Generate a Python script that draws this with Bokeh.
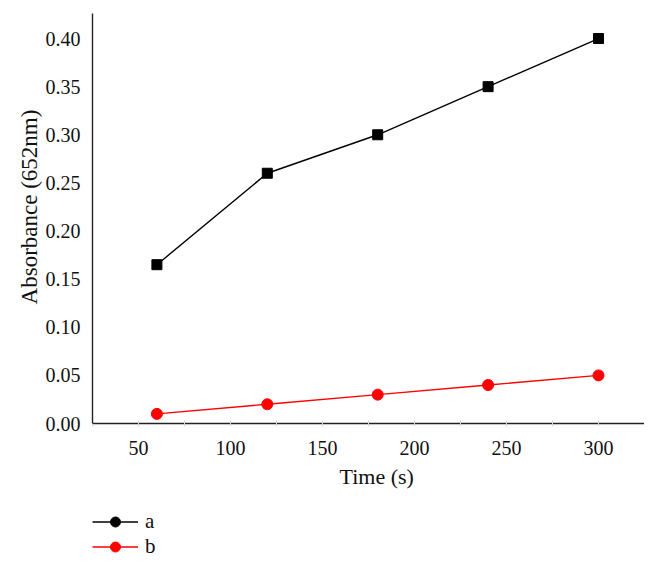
from bokeh.plotting import figure
from bokeh.layouts import column
from bokeh.models import Range1d, Legend, LegendItem, FixedTicker, ColumnDataSource
from bokeh.embed import file_html
from bokeh.resources import INLINE

time_s = [60, 120, 180, 240, 300]
series_a = [0.165, 0.26, 0.30, 0.35, 0.40]
series_b = [0.01, 0.02, 0.03, 0.04, 0.05]
x_ticks = [50, 100, 150, 200, 250, 300]
x_minor_ticks = [25, 75, 125, 175, 225, 275, 325]
y_ticks = [0.0, 0.05, 0.10, 0.15, 0.20, 0.25, 0.30, 0.35, 0.40]
y_tick_labels = {0.0: "0.00", 0.05: "0.05", 0.10: "0.10", 0.15: "0.15", 0.20: "0.20",
                 0.25: "0.25", 0.30: "0.30", 0.35: "0.35", 0.40: "0.40"}
legend_labels = ["a", "b"]
x_title = "Time (s)"
y_title = "Absorbance (652nm)"

FONT = "Liberation Serif"
BLACK = "#000000"
RED = "#ff0000"
NBSP = "\u00a0"

p = figure(width=644, height=500, output_backend="svg", toolbar_location=None,
           x_range=Range1d(25, 325), y_range=Range1d(0, 0.426),
           min_border_left=92, min_border_right=0, min_border_top=13, min_border_bottom=77)
p.outline_line_color = None
p.xgrid.visible = False
p.ygrid.visible = False

src_a = ColumnDataSource(dict(x=time_s, y=series_a))
src_b = ColumnDataSource(dict(x=time_s, y=series_b))

p.line("x", "y", source=src_a, line_color=BLACK, line_width=1.4)
p.scatter("x", "y", source=src_a, marker="square", size=10, fill_color=BLACK, line_color=BLACK)
p.line("x", "y", source=src_b, line_color=RED, line_width=1.4)
p.scatter("x", "y", source=src_b, marker="circle", size=11, fill_color=RED, line_color=RED)

# axes
p.xaxis.ticker = FixedTicker(ticks=x_ticks, minor_ticks=x_minor_ticks)
p.yaxis.ticker = FixedTicker(ticks=y_ticks)
p.yaxis.major_label_overrides = y_tick_labels
for ax in (p.xaxis, p.yaxis):
    ax.axis_line_color = "#222222"
    ax.axis_line_width = 1.4
    ax.major_label_text_font = FONT
    ax.major_label_text_font_size = "20px"
    ax.major_label_text_color = "#111111"
    ax.axis_label_text_font = FONT
    ax.axis_label_text_font_style = "normal"
    ax.axis_label_text_color = "#111111"

p.xaxis.axis_label_text_font_size = "22px"
p.yaxis.axis_label_text_font_size = "23px"

p.yaxis.major_tick_line_color = None
p.yaxis.minor_tick_line_color = None
p.yaxis.major_label_standoff = 6
# leading no-break spaces nudge the title off-centre as in the reference
p.yaxis.axis_label = NBSP * 4 + y_title
p.yaxis.axis_label_standoff = 1

p.xaxis.major_tick_line_color = "#d8d8d8"
p.xaxis.minor_tick_line_color = "#d8d8d8"
p.xaxis.major_tick_in = 3
p.xaxis.major_tick_out = 3
p.xaxis.minor_tick_in = 3
p.xaxis.minor_tick_out = 3
p.xaxis.major_label_standoff = 14
p.xaxis.axis_label = NBSP * 3 + x_title
p.xaxis.axis_label_standoff = 6

# legend panel below the chart
q = figure(width=644, height=59, output_backend="svg", toolbar_location=None,
           x_range=Range1d(0, 1), y_range=Range1d(0, 1),
           min_border_left=92, min_border_right=0, min_border_top=0, min_border_bottom=0,
           x_axis_location=None, y_axis_location=None)
q.outline_line_color = None
q.xgrid.visible = False
q.ygrid.visible = False
leg_a = ColumnDataSource(dict(x=time_s[:1], y=series_a[:1]))
leg_b = ColumnDataSource(dict(x=time_s[:1], y=series_b[:1]))
la = q.line("x", "y", source=leg_a, line_color=BLACK, line_width=1.4, visible=False)
ga = q.scatter("x", "y", source=leg_a, marker="circle", size=13, fill_color=BLACK, line_color=BLACK, visible=False)
lb = q.line("x", "y", source=leg_b, line_color=RED, line_width=1.4, visible=False)
gb = q.scatter("x", "y", source=leg_b, marker="circle", size=11, fill_color=RED, line_color=RED, visible=False)

legend = Legend(items=[LegendItem(label=legend_labels[0], renderers=[la, ga]),
                       LegendItem(label=legend_labels[1], renderers=[lb, gb])],
                location=(0, 0))
legend.border_line_color = None
legend.background_fill_alpha = 0
legend.padding = 0
legend.margin = 0
legend.spacing = 0
legend.glyph_width = 46
legend.glyph_height = 25
legend.label_height = 25
legend.label_standoff = 7
legend.label_text_font = FONT
legend.label_text_font_size = "21px"
legend.label_text_color = "#111111"
q.add_layout(legend, "center")

layout = column(p, q, spacing=0)
open("out.html", "w").write(file_html(layout, INLINE))
